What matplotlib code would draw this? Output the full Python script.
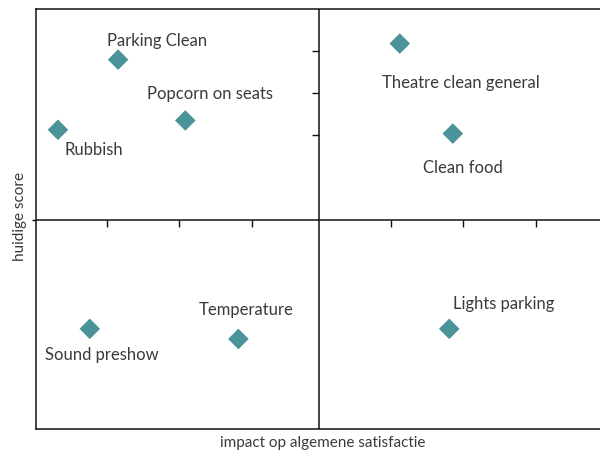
import matplotlib
matplotlib.use("Agg")
import matplotlib.pyplot as plt
from matplotlib.markers import TICKLEFT, TICKDOWN

# Data (impact on overall satisfaction vs current score, centred on the quadrant cross)
labels = ["Parking Clean", "Popcorn on seats", "Rubbish", "Theatre clean general",
          "Clean food", "Sound preshow", "Temperature", "Lights parking"]
impact = [-2.84, -1.89, -3.69, 1.14, 1.89, -3.24, -1.14, 1.84]
score = [3.79, 2.35, 2.13, 4.17, 2.04, -2.58, -2.82, -2.58]
# label offsets in pixels (dx, dy) relative to each marker
label_dx = [-11, -38, 7, -18, -30, -45, -40, 4]
label_dy = [15, 22, -24, -43, -38, -30, 25, 21]

x_ticks = [-3.0, -1.98, -0.95, 1.02, 2.03, 3.06]
y_ticks = [2, 3, 4]

plt.rcParams['font.family'] = ['Lato', 'DejaVu Sans']

fig = plt.figure(figsize=(6.0, 4.52), dpi=100)
ax = fig.add_axes([0.06, 0.0531 - 2.0 / 452, 0.94, 0.9292 + 0.5 / 452])
ax.set_xlim(-4.0, 3.97)
ax.set_ylim(-4.95, 5.0)

for side in ["top", "left", "bottom"]:
    ax.spines[side].set_linewidth(1.1)
    ax.spines[side].set_color("#111111")
ax.spines["right"].set_visible(False)

ax.axvline(0, color="#111111", lw=1.1, zorder=1)
ax.axhline(0, color="#111111", lw=1.1, zorder=1)

# tick marks on the quadrant lines
ax.plot([0] * len(y_ticks), y_ticks, linestyle="none", marker=TICKLEFT,
        markersize=5, markeredgewidth=1.0, color="#111111", zorder=1)
ax.plot(x_ticks, [0] * len(x_ticks), linestyle="none", marker=TICKDOWN,
        markersize=5, markeredgewidth=1.0, color="#111111", zorder=1)

ax.set_xticks([])
ax.set_yticks([0])
ax.tick_params(axis="y", length=3, width=1.0, labelleft=False)

ax.scatter(impact, score, marker="D", s=110, color="#4a9399",
           edgecolors="none", zorder=3)

for lab, x, y, dx, dy in zip(labels, impact, score, label_dx, label_dy):
    ax.annotate(lab, (x, y), xytext=(dx, dy), textcoords="offset pixels",
                ha="left", va="baseline", fontsize=12, color="#3a3a3a")

fig.text(0.537, 0.019, "impact op algemene satisfactie", ha="center", va="center",
         fontsize=11, color="#3a3a3a")
fig.text(0.034, 0.52, "huidige score", ha="center", va="center", rotation=90,
         fontsize=11, color="#3a3a3a")

fig.savefig("out.png", dpi=100)
